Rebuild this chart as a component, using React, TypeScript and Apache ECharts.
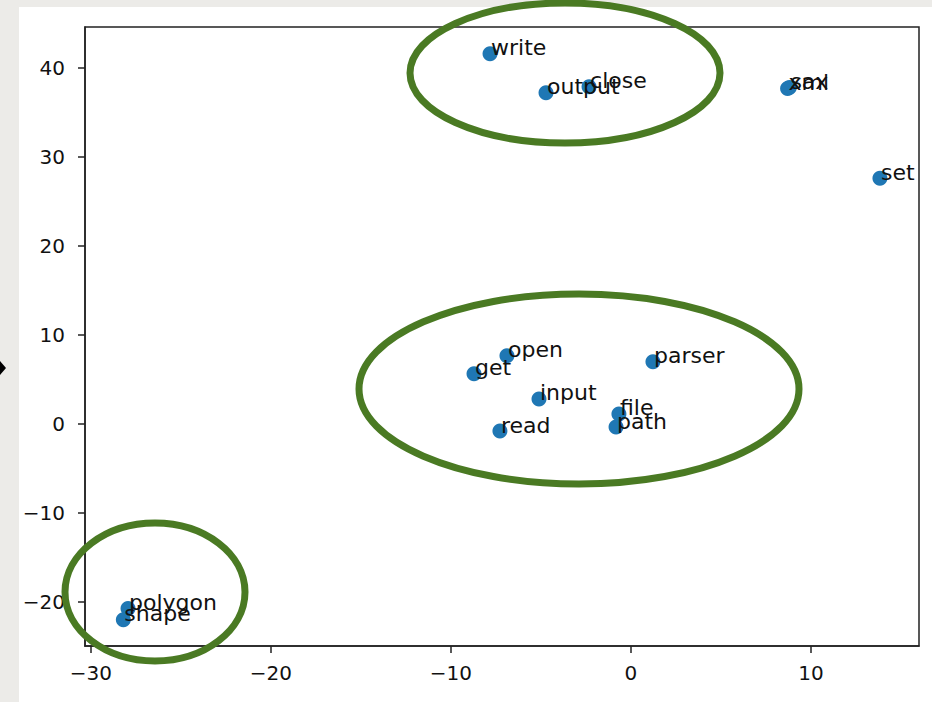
import React, { useEffect, useRef } from "react";
import * as echarts from "echarts";

const words = ["write", "output", "close", "sax", "xml", "set", "open", "get", "parser", "input", "file", "path", "read", "polygon", "shape"];
const xs = [-7.83, -4.72, -2.33, 8.8, 8.7, 13.83, -6.89, -8.72, 1.22, -5.11, -0.67, -0.83, -7.28, -27.94, -28.2];
const ys = [41.6, 37.2, 37.9, 37.8, 37.7, 27.6, 7.67, 5.64, 6.99, 2.82, 1.13, -0.34, -0.79, -20.74, -22.0];
const xTicks = [-30, -20, -10, 0, 10];
const yTicks = [-20, -10, 0, 10, 20, 30, 40];

const fmt = (v: number) => String(v).replace("-", "\u2212");

export default function App() {
  const ref = useRef<HTMLDivElement>(null);
  useEffect(() => {
    if (!ref.current) return;
    const chart = echarts.init(ref.current, null, { renderer: "svg" });
    const data = words.map((w, i) => ({ name: w, value: [xs[i], ys[i]] }));
    const ellipse = (cx: number, cy: number, rx: number, ry: number) => ({
      type: "ellipse",
      z: 100,
      shape: { cx, cy, rx, ry },
      style: { fill: "none", stroke: "#4a7a23", lineWidth: 7 },
      silent: true,
    });
    chart.setOption({
      animation: false,
      backgroundColor: "#ecebe8",
      textStyle: { fontFamily: "DejaVu Sans" },
      grid: { left: 85, top: 27, right: 13, bottom: 56, show: true, borderColor: "#222", borderWidth: 1.5, outerBoundsMode: "none" },
      xAxis: {
        type: "value",
        min: -30.33,
        max: 16.0,
        splitLine: { show: false },
        axisLine: { show: true, onZero: false, lineStyle: { color: "#222", width: 1.5 } },
        axisTick: { show: true, length: 7, customValues: xTicks, lineStyle: { color: "#222", width: 1.5 } },
        axisLabel: { customValues: xTicks, formatter: fmt, fontSize: 20, color: "#111", margin: 17, fontFamily: "DejaVu Sans" },
      },
      yAxis: {
        type: "value",
        min: -24.94,
        max: 44.6,
        splitLine: { show: false },
        axisLine: { show: true, onZero: false, lineStyle: { color: "#222", width: 1.5 } },
        axisTick: { show: true, length: 7, customValues: yTicks, lineStyle: { color: "#222", width: 1.5 } },
        axisLabel: { customValues: yTicks, formatter: fmt, fontSize: 20, color: "#111", margin: 20, fontFamily: "DejaVu Sans" },
      },
      graphic: [
        { type: "rect", z: -10, shape: { x: 19, y: 7, width: 913, height: 695 }, style: { fill: "#ffffff" }, silent: true },
        { type: "polygon", z: 100, shape: { points: [[0, 361], [6, 368], [0, 375]] }, style: { fill: "#000" }, silent: true },
        ellipse(565, 73, 155, 70),
        ellipse(579, 389, 220, 95),
        ellipse(155, 592, 90, 69),
      ],
      series: [
        {
          type: "scatter",
          symbolSize: 15,
          itemStyle: { color: "#1f77b4", opacity: 1 },
          data,
          label: {
            show: true,
            position: [7.5, 7.5],
            align: "left",
            verticalAlign: "bottom",
            offset: [1, 5],
            formatter: (p: any) => p.name,
            fontSize: 22,
            color: "#111",
            fontFamily: "DejaVu Sans",
          },
        },
      ],
    });
    return () => chart.dispose();
  }, []);
  return <div ref={ref} style={{ position: "absolute", left: 0, top: 0, width: 932, height: 702 }} />;
}
